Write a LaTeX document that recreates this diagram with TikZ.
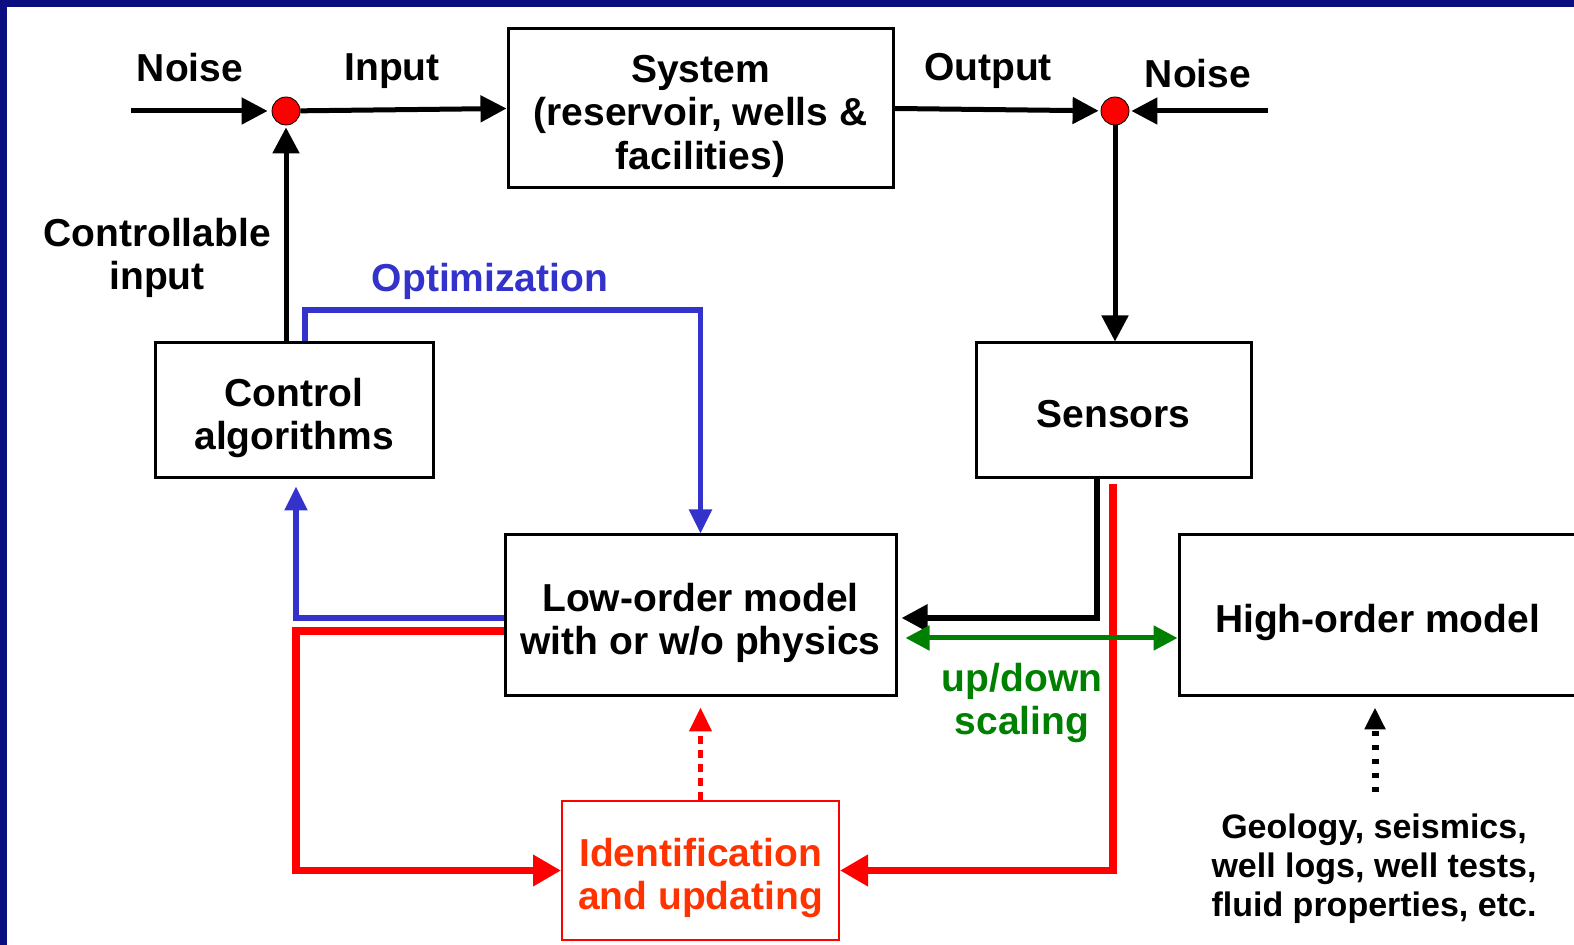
\documentclass[tikz,border=0pt]{standalone}
\usepackage{fontspec}
\setmainfont{Liberation Sans}
\usetikzlibrary{arrows.meta}
\definecolor{navy}{RGB}{13,13,130}
\definecolor{optblue}{RGB}{51,51,204}
\definecolor{identred}{RGB}{255,51,0}
\definecolor{grn}{RGB}{0,128,0}
\newcommand{\topstrut}{\rule{0pt}{21.4pt}}
\newcommand{\botstrut}{\rule[-4pt]{0pt}{4pt}}
\begin{document}
\begin{tikzpicture}[x=0.5pt,y=-0.5pt,
  font=\bfseries\fontsize{19.5}{21.75}\selectfont,
  box/.style={draw=black, line width=1.5pt, inner sep=0pt, align=center, fill=white},
  lbl/.style={inner sep=0pt, align=center},
  dot/.style={circle, fill=red, draw=black, line width=0.4pt, minimum size=14pt, inner sep=0pt},
  blk/.style={line width=2.5pt, -{Triangle[length=13pt,width=13pt]}},
  blkthick/.style={line width=3pt, -{Triangle[length=13pt,width=13pt]}},
  bluarr/.style={draw=optblue, line width=2.6pt, -{Triangle[length=12pt,width=11pt]}},
  redarr/.style={draw=red, line width=3.8pt, -{Triangle[length=14pt,width=15pt]}},
  reddot/.style={draw=red, line width=2.2pt, dash pattern=on 4pt off 3pt, -{Triangle[length=12pt,width=11pt]}},
  grnarr/.style={draw=grn, line width=2.5pt, {Triangle[length=12pt,width=12pt]}-{Triangle[length=12pt,width=12pt]}},
  blkdot/.style={line width=3.5pt, dash pattern=on 2.5pt off 4.5pt, -{Triangle[length=11pt,width=10pt]}}
]
\useasboundingbox (0,0) rectangle (1574,945);
\clip (0,0) rectangle (1574,945);
\fill[white] (0,0) rectangle (1574,945);
\fill[navy] (0,0) rectangle (1574,7);
\fill[navy] (0,0) rectangle (7,945);

% boxes
\node[box, minimum width=192.5pt, minimum height=79.5pt] (sys) at (700.5,108.5) {\topstrut System\\(reservoir, wells \&\\facilities)\botstrut};
\node[box, minimum width=139pt, minimum height=67.5pt] (ctrl) at (294,410.5) {\topstrut Control\\algorithms\botstrut};
\node[box, minimum width=137.5pt, minimum height=67.5pt] (sens) at (1113.5,410.5) {\topstrut Sensors\botstrut};
\node[box, minimum width=195.5pt, minimum height=80.5pt] (low) at (700.5,615.5) {\topstrut Low-order model\\with or w/o physics\botstrut};
\node[box, minimum width=198.5pt, minimum height=80.5pt] (high) at (1377.5,615.5) {\topstrut High-order model\botstrut};
\node[box, draw=red, line width=1pt, text=identred, minimum width=138.5pt, minimum height=69.5pt] (ident) at (700.5,870.5) {\topstrut Identification\\and updating\botstrut};

% summing points
\node[dot] (dl) at (286,111) {};
\node[dot] (dr) at (1115,111) {};

% labels
\node[lbl] (tnoise1) at (190,68) {Noise};
\node[lbl] (tinput) at (392,71) {Input};
\node[lbl] (toutput) at (988,71) {Output};
\node[lbl] (tnoise2) at (1198,74) {Noise};
\node[lbl] (tci) at (157,258) {Controllable\\input};
\node[lbl, text=optblue] (topt) at (490,281) {Optimization};
\node[lbl, text=grn] (tud) at (1022,703) {up/down\\scaling};
\node[lbl, font=\bfseries\fontsize{17}{19.5}\selectfont] (geo) at (1374,869) {Geology, seismics,\\well logs, well tests,\\fluid properties, etc.};

% coordinates
\coordinate (nl) at (131,111);
\coordinate (nr) at (1268,111);
\coordinate (b1) at (305,310);
\coordinate (b2) at (296,618);
\coordinate (r1) at (296,631);
\coordinate (r0) at (1113,484);
\coordinate (r2) at (1113,870.5);
\coordinate (k1) at (1097,618);
\coordinate (g1) at (0,638);
\coordinate (gs) at (1375,792);

% black connectors
\draw[blk, shorten >=2pt] (nl) -- (dl);
\draw[blk] (dl) -- (sys.west);
\draw[blk, shorten >=1pt] (dl |- ctrl.north) -- (dl);
\draw[blk, shorten >=1pt] (sys.east) -- (dr);
\draw[blk, shorten >=1pt] (nr) -- (dr);
\draw[blk] (dr) -- (dr |- sens.north);

% blue (optimization)
\draw[bluarr] (ctrl.north -| b1) -- (b1) -| (low.north);
\draw[bluarr, shorten >=3.5pt] (low.west |- b2) -- (b2) -- (b2 |- ctrl.south);

% red (identification)
\draw[redarr] (low.west |- r1) -- (r1) |- (ident.west);
\draw[redarr] (r0) -- (r2) -- (ident.east);
\draw[reddot, shorten >=5pt] (ident.north) -- (low.south);

% sensors to low-order model
\draw[blkthick, shorten >=2pt] (sens.south -| k1) -- (k1) -- (low.east |- k1);

% up/down scaling
\draw[grnarr, shorten <=4pt] (low.east |- g1) -- (high.west |- g1);

% data to high-order model
\draw[blkdot, shorten >=5pt] (gs) -- (gs |- high.south);
\end{tikzpicture}
\end{document}
